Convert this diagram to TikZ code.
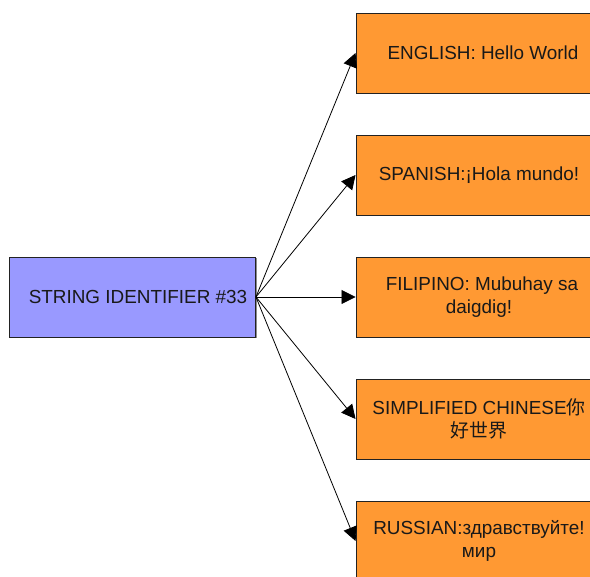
\documentclass[tikz,border=0pt]{standalone}
\usepackage{fontspec}
\setmainfont{Liberation Sans}
\newfontfamily\cjk{Noto Sans CJK SC}
\usetikzlibrary{arrows.meta,shadows}
\definecolor{boxblue}{HTML}{9999FF}
\definecolor{boxorange}{HTML}{FF9933}
\definecolor{edge}{HTML}{222222}
\tikzset{
  basebox/.style={draw=edge, line width=0.9pt, minimum width=246pt, minimum height=80pt,
    inner sep=0pt, align=center, font=\fontsize{18.9}{23.5}\selectfont, text=black!90,
    drop shadow={shadow xshift=1.5pt, shadow yshift=-1.5pt, fill=black!45, opacity=1}},
  srcbox/.style={basebox, fill=boxblue},
  langbox/.style={basebox, fill=boxorange},
  conn/.style={draw=black, line width=0.8pt, -{Triangle[length=14pt,width=14pt]}}
}
\begin{document}
\begin{tikzpicture}[x=1pt,y=-1pt]
\useasboundingbox (0,0) rectangle (590,577);
\clip (0,0) rectangle (590,577);
\fill[white] (0,0) rectangle (590,577);
\node[srcbox] (src) at (132.5,297) {};
\node (srct) at (138,297) [font=\fontsize{18.9}{23.5}\selectfont, text=black!90, inner sep=0pt] {STRING IDENTIFIER \#33};
\node[langbox] (en) at (479,53) {\hspace*{8pt}ENGLISH: Hello World};
\node[langbox] (es) at (479,175) {SPANISH:¡Hola mundo!};
\node[langbox] (fil) at (479,297) {\hspace*{6pt}FILIPINO: Mubuhay sa\\daigdig!};
\node[langbox] (zh) at (479,419) {SIMPLIFIED CHINESE{\cjk 你}\\{\cjk 好世界}};
\node[langbox] (ru) at (479,541) {RUSSIAN:здравствуйте!\\мир};
\foreach \t in {en,es,fil,zh,ru}
  \draw[conn] (src.east) -- (\t.west);
\end{tikzpicture}
\end{document}
